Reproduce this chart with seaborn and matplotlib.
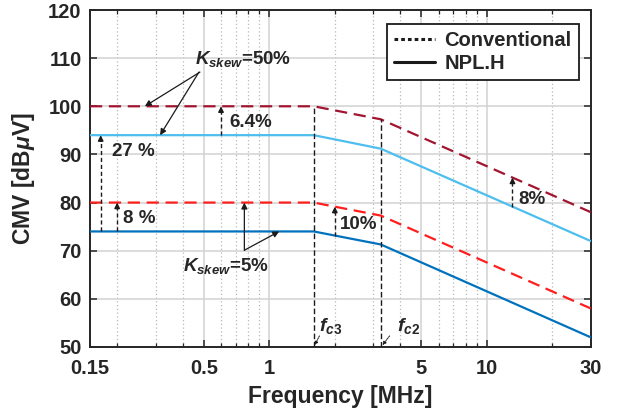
import numpy as np
import pandas as pd
import matplotlib
matplotlib.use("Agg")
import matplotlib.pyplot as plt
from matplotlib.lines import Line2D
from matplotlib.ticker import FixedLocator, FixedFormatter, NullFormatter
import seaborn as sns

# CMV envelope nodes (MHz, dBuV)
freq_mhz = [0.15, 1.6, 3.25, 30]
conv_k50 = [100, 100, 97.3, 78]
npl_k50 = [94, 94, 91.2, 72]
conv_k5 = [80, 80, 77.3, 58]
npl_k5 = [74, 74, 71.3, 52]
fc3, fc2 = 1.6, 3.25

x_major = [0.15, 0.5, 1, 5, 10, 30]
x_major_labels = ["0.15", "0.5", "1", "5", "10", "30"]
x_minor = [0.2, 0.3, 0.4, 0.6, 0.7, 0.8, 0.9, 2, 3, 4, 6, 7, 8, 9, 20]
y_ticks = [50, 60, 70, 80, 90, 100, 110, 120]

series_names = ["conv50", "npl50", "conv5", "npl5"]
series_vals = [conv_k50, npl_k50, conv_k5, npl_k5]
palette = {"conv50": "#A2142F", "npl50": "#4DBEEE", "conv5": "#FF1E1E", "npl5": "#0072BD"}
dashes = {"conv50": (5.5, 3), "npl50": "", "conv5": (5.5, 3), "npl5": ""}

sns.set_theme(style="ticks")
plt.rcParams["font.family"] = ["Liberation Sans", "DejaVu Sans"]
plt.rcParams["font.weight"] = "bold"
plt.rcParams["mathtext.fontset"] = "custom"
plt.rcParams["mathtext.rm"] = "Liberation Sans:bold"
plt.rcParams["mathtext.it"] = "Liberation Sans:bold:italic"
plt.rcParams["mathtext.bf"] = "Liberation Sans:bold"

df = pd.DataFrame(
    [(f, v, name) for name, vals in zip(series_names, series_vals) for f, v in zip(freq_mhz, vals)],
    columns=["freq", "cmv", "series"],
)

fig = plt.figure(figsize=(6.24, 4.17), dpi=100)
ax = fig.add_axes([0.1442, 0.1679, 0.8026, 0.8081])

sns.lineplot(data=df, x="freq", y="cmv", hue="series", style="series",
             palette=palette, dashes=dashes, linewidth=1.6, legend=False,
             ax=ax, zorder=3)

ax.set_xscale("log")
ax.set_xlim(0.15, 30)
ax.set_ylim(50, 120)
ax.xaxis.set_major_locator(FixedLocator(x_major))
ax.xaxis.set_major_formatter(FixedFormatter(x_major_labels))
ax.xaxis.set_minor_locator(FixedLocator(x_minor))
ax.xaxis.set_minor_formatter(NullFormatter())
ax.set_yticks(y_ticks)

# grid: solid majors, dotted minors
ax.grid(which="major", color="#d2d2d2", linewidth=1.1, linestyle="-", zorder=0)
ax.grid(which="minor", axis="x", color="#b8b8b8", linewidth=0.9, linestyle=(0, (1, 2)), zorder=0)
ax.set_axisbelow(True)

for sp in ax.spines.values():
    sp.set_visible(True)
    sp.set_color("#262626")
    sp.set_linewidth(1.4)
ax.tick_params(which="both", direction="in", top=True, right=True, colors="#262626")
ax.tick_params(which="major", length=5, width=1.1, labelsize=14.5)
ax.tick_params(axis="x", which="major", pad=9)
ax.tick_params(axis="y", which="major", pad=6)
ax.tick_params(which="minor", length=3, width=0.9)
for lab in ax.get_xticklabels() + ax.get_yticklabels():
    lab.set_fontweight("bold")

ax.set_xlabel("Frequency [MHz]", fontsize=16.5, fontweight="bold", labelpad=5)
ax.set_ylabel(r"CMV [dB$\mu$V]", fontsize=16.5, fontweight="bold", labelpad=8)


def at(f, vals):
    return float(np.interp(np.log10(f), np.log10(freq_mhz), vals))


# cutoff frequency markers
for fc in (fc3, fc2):
    ax.plot([fc, fc], [50, at(fc, conv_k50)], color="k", lw=1.0,
            ls=(0, (4, 2)), zorder=4)


def gap_arrow(f, lo_vals, hi_vals, text, tx, ty):
    y0, y1 = at(f, lo_vals), at(f, hi_vals)
    ax.plot([f, f], [y0, y1 - 1.0], color="k", lw=1.0, ls=(0, (3, 2)), zorder=5)
    ax.annotate("", xy=(f, y1), xytext=(f, y1 - 1.3),
                arrowprops=dict(arrowstyle="-|>", color="k", lw=1.0,
                                mutation_scale=8, shrinkA=0, shrinkB=0), zorder=5)
    ax.text(tx, ty, text, fontsize=13.5, fontweight="bold", ha="left",
            va="center", zorder=6)


gap_arrow(0.168, npl_k5, npl_k50, "27 %", 0.19, 90.6)
gap_arrow(0.2, npl_k5, conv_k5, "8 %", 0.212, 76.6)
gap_arrow(0.60, npl_k50, conv_k50, "6.4%", 0.655, 96.6)
gap_arrow(2.0, npl_k5, conv_k5, "10%", 2.12, 75.4)
gap_arrow(13.1, npl_k50, conv_k50, "8%", 13.9, 80.7)

# K_skew callouts
arrow_kw = dict(arrowstyle="-|>", color="k", lw=0.9, mutation_scale=9,
                shrinkA=0, shrinkB=0)
ax.text(0.455, 109.8, r"$K_{skew}$=50%", fontsize=13.5, fontweight="bold",
        ha="left", va="center")
ax.annotate("", xy=(0.268, at(0.268, conv_k50)), xytext=(0.48, 107.1), arrowprops=arrow_kw)
ax.annotate("", xy=(0.315, at(0.315, npl_k50)), xytext=(0.475, 107.1), arrowprops=arrow_kw)

ax.text(0.40, 66.8, r"$K_{skew}$=5%", fontsize=13.5, fontweight="bold",
        ha="left", va="center")
ax.annotate("", xy=(0.768, at(0.768, conv_k5)), xytext=(0.768, 70.1), arrowprops=arrow_kw)
ax.annotate("", xy=(1.11, at(1.11, npl_k5)), xytext=(0.768, 70.1), arrowprops=arrow_kw)

# cutoff labels with small pointers
small_kw = dict(arrowstyle="-|>", color="k", lw=0.7, ls=(0, (1.5, 1)),
                mutation_scale=5, shrinkA=0, shrinkB=0)
ax.text(1.70, 54.3, r"$f_{c3}$", fontsize=14, ha="left", va="center")
ax.annotate("", xy=(fc3 * 1.01, 50.4), xytext=(1.70, 52.3), arrowprops=small_kw)
ax.text(3.85, 54.3, r"$f_{c2}$", fontsize=14, ha="left", va="center")
ax.annotate("", xy=(fc2 * 1.02, 50.4), xytext=(3.57, 52.3), arrowprops=small_kw)

handles = [Line2D([], [], color="k", lw=2.2, ls=(0, (1.2, 1.0))),
           Line2D([], [], color="k", lw=2.2, ls="-")]
leg = ax.legend(handles, ["Conventional", "NPL.H"], loc="upper right",
                bbox_to_anchor=(0.976, 0.958), borderaxespad=0, frameon=True,
                fancybox=False, edgecolor="k", framealpha=1, borderpad=0.35,
                labelspacing=0.2, handlelength=2.0, handletextpad=0.5,
                prop={"size": 14.5, "weight": "bold"})
leg.get_frame().set_linewidth(1.3)
leg.set_zorder(10)

fig.savefig("out.png", dpi=100)
